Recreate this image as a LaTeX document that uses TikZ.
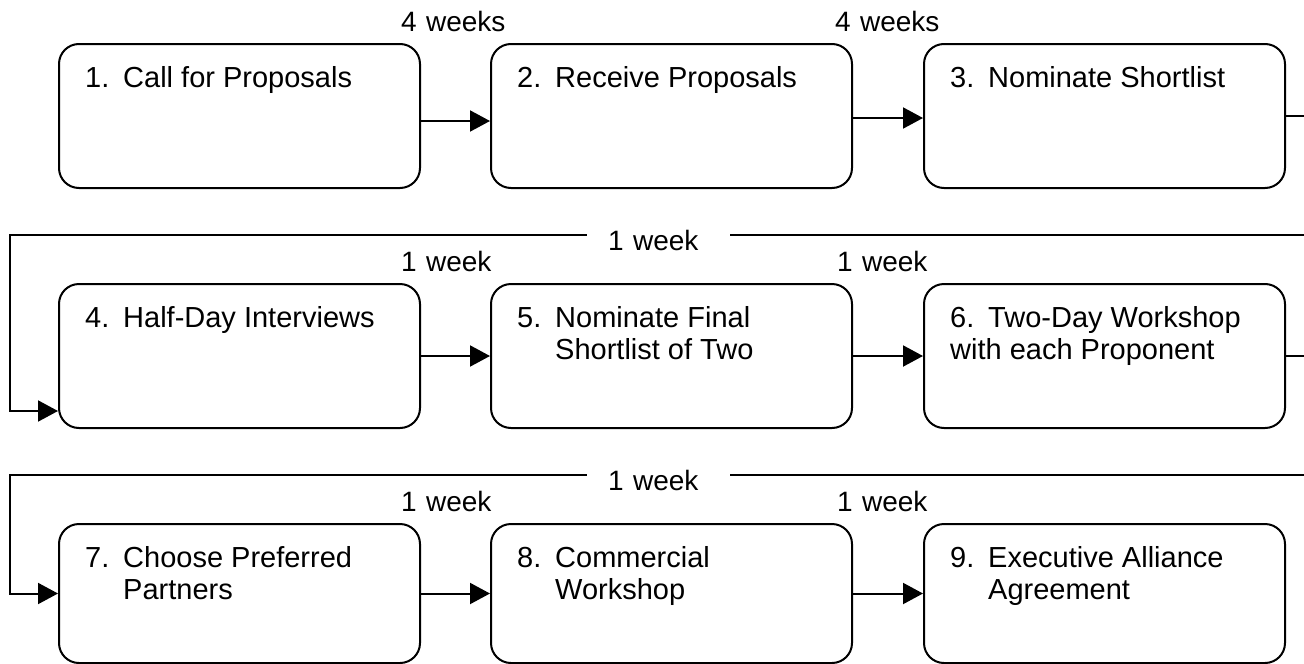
\documentclass[tikz,border=0pt]{standalone}
\usepackage{fontspec}
\setmainfont{Liberation Sans}
\usetikzlibrary{arrows.meta,calc}
\begin{document}
\begin{tikzpicture}[x=1pt,y=-1pt,
  stepbox/.style={draw,line width=2pt,rounded corners=20pt,minimum width=361pt,minimum height=144pt,inner sep=0pt,anchor=north west},
  steptext/.style={anchor=base west,inner sep=0pt,align=left,font=\fontsize{29}{32}\selectfont},
  wlabel/.style={fill=white,inner xsep=20pt,inner ysep=11pt,text width=128pt,align=left,font=\fontsize{28}{32}\selectfont,anchor=south west,text height=20pt,text depth=0pt},
  longlabel/.style={fill=white,inner xsep=21pt,inner ysep=4pt,text width=101pt,align=left,font=\fontsize{28}{32}\selectfont,anchor=base west},
  flow/.style={line width=2pt,-{Triangle[length=20pt,width=21pt]}}]
\clip (0,0) rectangle (1304,664);
% boxes
\node[stepbox] (b1) at (58,43) {};
\node[stepbox] (b2) at (490,43) {};
\node[stepbox] (b3) at (923,43) {};
\node[stepbox] (b4) at (58,283) {};
\node[stepbox] (b5) at (490,283) {};
\node[stepbox] (b6) at (923,283) {};
\node[stepbox,minimum height=139pt] (b7) at (58,523) {};
\node[stepbox,minimum height=139pt] (b8) at (490,523) {};
\node[stepbox,minimum height=139pt] (b9) at (923,523) {};
% connectors within rows
\draw[flow] ([yshift=-5pt]b1.east) -- ([yshift=-5pt]b2.west);
\draw[flow] ([yshift=-2pt]b2.east) -- ([yshift=-2pt]b3.west);
\draw[flow] (b4.east) -- (b5.west);
\draw[flow] (b5.east) -- (b6.west);
\draw[flow] (b7.east) -- (b8.west);
\draw[flow] (b8.east) -- (b9.west);
% loop connectors
\coordinate (r1) at (1330,235);
\coordinate (l1) at (10,235);
\coordinate (r2) at (1330,475);
\coordinate (l2) at (10,475);
\draw[flow] (b3.east) -| (r1) -- (l1) |- ([yshift=-55pt]b4.west);
\draw[flow] (b6.east) -| (r2) -- (l2) |- (b7.west);
% duration labels
\node[wlabel] (d1) at (381,43) {4 weeks};
\node[wlabel] (d2) at (815,43) {4 weeks};
\node[wlabel] (d4) at (381,283) {1 week};
\node[wlabel] (d5) at (817,283) {1 week};
\node[wlabel] (d7) at (381,523) {1 week};
\node[wlabel] (d8) at (817,523) {1 week};
\node[longlabel] (d3) at (587,250) {1 week};
\node[longlabel] (d6) at (587,490) {1 week};
% step texts
\node[steptext] (t1) at ($(b1.north west)+(27,44)$) {\makebox[38pt][l]{1.}Call for Proposals};
\node[steptext] (t2) at ($(b2.north west)+(27,44)$) {\makebox[38pt][l]{2.}Receive Proposals};
\node[steptext] (t3) at ($(b3.north west)+(27,44)$) {\makebox[38pt][l]{3.}Nominate Shortlist};
\node[steptext] (t4) at ($(b4.north west)+(27,44)$) {\makebox[38pt][l]{4.}Half-Day Interviews};
\node[steptext] (t5) at ($(b5.north west)+(27,76)$) {\makebox[38pt][l]{5.}Nominate Final\\\hspace*{38pt}Shortlist of Two};
\node[steptext] (t6) at ($(b6.north west)+(27,76)$) {\makebox[38pt][l]{6.}Two-Day Workshop\\with each Proponent};
\node[steptext] (t7) at ($(b7.north west)+(27,76)$) {\makebox[38pt][l]{7.}Choose Preferred\\\hspace*{38pt}Partners};
\node[steptext] (t8) at ($(b8.north west)+(27,76)$) {\makebox[38pt][l]{8.}Commercial\\\hspace*{38pt}Workshop};
\node[steptext] (t9) at ($(b9.north west)+(27,76)$) {\makebox[38pt][l]{9.}Executive Alliance\\\hspace*{38pt}Agreement};
\end{tikzpicture}
\end{document}
